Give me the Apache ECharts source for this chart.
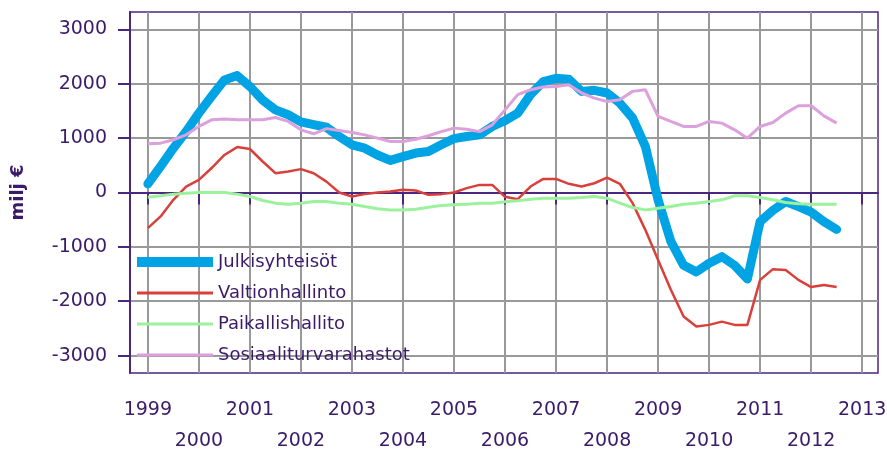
<!DOCTYPE html>
<html lang="fi" style="height: 100%">
<head>
    <meta charset="utf-8">
    <script src="https://cdn.jsdelivr.net/npm/echarts@6.0.0/dist/echarts.min.js"></script>
</head>
<body style="height: 100%; margin: 0; background: #fff">
<div id="main" style="width: 887px; height: 452px"></div>
<script type="text/javascript">
    // neljännekset 1999Q1 - 2012Q3
    const quarters = [
        '1999Q1','1999Q2','1999Q3','1999Q4','2000Q1','2000Q2','2000Q3','2000Q4',
        '2001Q1','2001Q2','2001Q3','2001Q4','2002Q1','2002Q2','2002Q3','2002Q4',
        '2003Q1','2003Q2','2003Q3','2003Q4','2004Q1','2004Q2','2004Q3','2004Q4',
        '2005Q1','2005Q2','2005Q3','2005Q4','2006Q1','2006Q2','2006Q3','2006Q4',
        '2007Q1','2007Q2','2007Q3','2007Q4','2008Q1','2008Q2','2008Q3','2008Q4',
        '2009Q1','2009Q2','2009Q3','2009Q4','2010Q1','2010Q2','2010Q3','2010Q4',
        '2011Q1','2011Q2','2011Q3','2011Q4','2012Q1','2012Q2','2012Q3'
    ];
    const julkisyhteisot = [
        160, 480, 815, 1120, 1460, 1770, 2070, 2150,
        1950, 1700, 1520, 1430, 1300, 1250, 1200, 1030,
        877, 815, 690, 590, 660, 725, 755, 877,
        990, 1030, 1060, 1215, 1320, 1460, 1800, 2040,
        2100, 2085, 1860, 1880, 1830, 1645, 1370, 850,
        -135, -900, -1340, -1460, -1300, -1180, -1340, -1590,
        -535, -330, -165, -260, -360, -535, -680
    ];
    const valtionhallinto = [
        -656, -440, -135, 110, 233, 450, 690, 835,
        800, 570, 355, 385, 430, 355, 200, 0,
        -74, -30, 0, 18, 50, 37, -43, -30,
        0, 80, 140, 140, -80, -123, 110, 250,
        250, 160, 110, 170, 275, 160, -196, -687,
        -1240, -1790, -2280, -2465, -2435, -2375, -2435, -2435,
        -1607, -1410, -1425, -1607, -1740, -1700, -1740
    ];
    const paikallishallinto = [
        -86, -60, -30, -12, 0, 0, 0, -30,
        -74, -147, -196, -215, -196, -166, -166, -196,
        -215, -258, -300, -320, -320, -307, -270, -240,
        -227, -215, -196, -196, -170, -153, -123, -104,
        -104, -104, -92, -74, -104, -196, -276, -320,
        -288, -258, -215, -196, -166, -135, -61, -61,
        -92, -135, -184, -209, -215, -215, -215
    ];
    const sosiaaliturvarahastot = [
        895, 908, 970, 1060, 1215, 1337, 1350, 1337,
        1337, 1337, 1380, 1307, 1153, 1080, 1175, 1141,
        1104, 1060, 1000, 938, 938, 980, 1043, 1120,
        1184, 1165, 1120, 1245, 1520, 1800, 1890, 1940,
        1950, 1980, 1830, 1736, 1675, 1705, 1860, 1890,
        1400, 1307, 1215, 1215, 1307, 1276, 1153, 1000,
        1215, 1288, 1460, 1595, 1595, 1410, 1276
    ];
    const yearTicks = [1999, 2000, 2001, 2002, 2003, 2004, 2005, 2006, 2007, 2008, 2009, 2010, 2011, 2012, 2013];
    const valueTicks = [-3000, -2000, -1000, 0, 1000, 2000, 3000];

    const textColor = '#3a1a69';
    const axisColor = '#4a2680';
    const fontFamily = 'DejaVu Sans';
    const noSymbol = {color: 'rgba(0,0,0,0)', borderColor: 'rgba(0,0,0,0)', borderWidth: 0};

    // neljännes -> vuosiluku desimaalina
    function qx(q) {
        return Number(q.slice(0, 4)) + (Number(q.slice(5)) - 1) / 4;
    }
    function pairs(values) {
        return values.map(function (v, i) { return [qx(quarters[i]), v]; });
    }

    let chart = echarts.init(document.getElementById('main'));
    chart.setOption({
        animation: false,
        textStyle: {fontFamily: fontFamily},
        grid: {
            left: 130, top: 12, right: 9, bottom: 79,
            outerBoundsMode: 'none',
            containLabel: false,
            show: true,
            borderColor: axisColor,
            borderWidth: 1.5
        },
        legend: {
            orient: 'vertical',
            left: 132,
            top: 253,
            padding: 0,
            itemWidth: 76,
            itemHeight: 18,
            itemGap: 13,
            textStyle: {color: textColor, fontSize: 18, fontFamily: fontFamily},
            data: [
                {name: 'Julkisyhteisöt', itemStyle: noSymbol, lineStyle: {width: 10, cap: 'butt'}},
                {name: 'Valtionhallinto', itemStyle: noSymbol, lineStyle: {width: 3, cap: 'butt'}},
                {name: 'Paikallishallito', itemStyle: noSymbol, lineStyle: {width: 3, cap: 'butt'}},
                {name: 'Sosiaaliturvarahastot', itemStyle: noSymbol, lineStyle: {width: 3, cap: 'butt'}}
            ]
        },
        xAxis: {
            type: 'value',
            min: 1998.65,
            max: 2013.31,
            axisLine: {show: true, lineStyle: {color: axisColor, width: 2}},
            axisTick: {show: true, length: 12, customValues: yearTicks, lineStyle: {color: axisColor, width: 2}},
            splitLine: {show: true, lineStyle: {color: '#999999', width: 2}},
            axisLabel: {
                customValues: yearTicks,
                color: textColor,
                fontSize: 19,
                margin: 22,
                lineHeight: 31,
                verticalAlign: 'top',
                formatter: function (v) {
                    return (v % 2 === 0 ? '\n' : '') + v;
                }
            }
        },
        yAxis: {
            type: 'value',
            min: -3320,
            max: 3320,
            name: 'milj €',
            nameLocation: 'middle',
            nameRotate: 90,
            nameGap: 103,
            nameTextStyle: {color: textColor, fontSize: 18, fontWeight: 'bold'},
            axisLine: {show: true, lineStyle: {color: axisColor, width: 2}},
            axisTick: {show: true, length: 12, customValues: valueTicks, lineStyle: {color: axisColor, width: 2}},
            splitLine: {show: true, lineStyle: {color: '#999999', width: 2}},
            axisLabel: {
                customValues: valueTicks,
                color: textColor,
                fontSize: 19,
                margin: 23,
                formatter: function (v) { return String(v); }
            }
        },
        series: [
            {
                name: 'Julkisyhteisöt', type: 'line', symbol: 'none',
                data: pairs(julkisyhteisot),
                itemStyle: {color: '#00a3e4'},
                lineStyle: {color: '#00a3e4', width: 9, join: 'round', cap: 'round'}
            },
            {
                name: 'Valtionhallinto', type: 'line', symbol: 'none',
                data: pairs(valtionhallinto),
                itemStyle: {color: '#d9403b'},
                lineStyle: {color: '#d9403b', width: 2.5}
            },
            {
                name: 'Paikallishallito', type: 'line', symbol: 'none',
                data: pairs(paikallishallinto),
                itemStyle: {color: '#9cf29c'},
                lineStyle: {color: '#9cf29c', width: 3}
            },
            {
                name: 'Sosiaaliturvarahastot', type: 'line', symbol: 'none',
                data: pairs(sosiaaliturvarahastot),
                itemStyle: {color: '#dca0dc'},
                lineStyle: {color: '#dca0dc', width: 3}
            }
        ]
    });
</script>
</body>
</html>
